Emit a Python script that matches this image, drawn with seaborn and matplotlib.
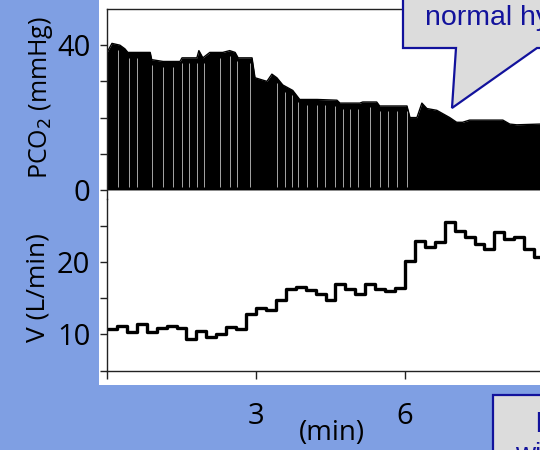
"""Capnogram PCO2 trace and step ventilation on a slide-style panel."""

import matplotlib.pyplot as plt
import numpy as np
import pandas as pd
import seaborn as sns
from matplotlib.patches import Polygon, Rectangle

# end-tidal PCO2 envelope (min, mmHg)
pco2_time = [0.0, 0.1, 0.26, 0.36, 0.42, 0.87, 0.9, 1.13, 1.47, 1.51, 1.81, 1.85,
             1.93, 2.07, 2.33, 2.47, 2.58, 2.64, 2.92, 2.98, 3.22, 3.32, 3.42, 3.54,
             3.74, 3.88, 4.23, 4.63, 4.69, 5.09, 5.15, 5.43, 5.49, 6.04, 6.1, 6.24,
             6.34, 6.44, 6.64, 6.9, 7.04, 7.16, 7.3, 7.97, 8.11, 8.25, 8.71, 9.0]
pco2_peak = [38, 40.5, 40, 39, 38, 38, 36, 35.5, 35.5, 36.5, 36.5, 38.5,
             36.5, 38, 38, 38.5, 38, 36.5, 36.5, 31, 30, 32, 31, 29,
             27.5, 25, 25, 24.8, 24, 24, 24.3, 24.3, 23.2, 23.2, 20, 20,
             24, 22.5, 22, 20, 18.7, 18.7, 19.3, 19.3, 18.2, 18, 18.2, 18.2]
# times where single breaths show as white gaps
gap_time = [0.22, 0.44, 0.60, 0.91, 1.13, 1.33, 1.51, 1.65, 1.81, 1.95, 2.27, 2.47,
            2.62, 2.88, 3.42, 3.58, 3.72, 3.84, 4.02, 4.23, 4.39, 4.59, 4.75, 4.89,
            5.05, 5.29, 5.49, 5.65, 5.84, 6.04]

# ventilation, one value per 12 s bin (L/min)
vent_time = [0.0, 0.2, 0.4, 0.6, 0.8, 1.0, 1.2, 1.4, 1.6, 1.8, 2.0, 2.2, 2.4, 2.6,
             2.8, 3.0, 3.2, 3.4, 3.6, 3.8, 4.0, 4.2, 4.4, 4.6, 4.8, 5.0, 5.2, 5.4,
             5.6, 5.8, 6.0, 6.2, 6.4, 6.6, 6.8, 7.0, 7.2, 7.4, 7.6, 7.8, 8.0, 8.2,
             8.4, 8.6, 8.8]
vent = [10.8, 11.1, 10.3, 11.4, 10.3, 10.9, 11.1, 10.9, 9.4, 10.4, 9.6, 10.0, 11.0, 10.8,
        12.8, 13.7, 13.3, 14.8, 16.3, 16.5, 16.1, 15.6, 14.7, 17.0, 16.2, 15.6, 16.9, 16.2,
        16.0, 16.4, 20.1, 22.9, 22.1, 22.8, 25.5, 24.3, 23.4, 22.5, 21.8, 24.1, 23.2, 23.5,
        21.8, 20.7, 20.7]

sns.set_style("ticks")
plt.rcParams["font.family"] = ["Open Sans", "DejaVu Sans"]
plt.rcParams["text.color"] = "black"
plt.rcParams["xtick.color"] = "#222222"
plt.rcParams["ytick.color"] = "#222222"
plt.rcParams["xtick.labelcolor"] = "black"
plt.rcParams["ytick.labelcolor"] = "black"

W, H = 540, 450
BG = "#7f9fe3"
BLUE = "#12129c"


def fx(px):
    return px / W


def fy(py):
    return 1 - py / H


fig = plt.figure(figsize=(W / 100, H / 100), dpi=100, facecolor=BG)
fig.patches.append(Rectangle((fx(99), fy(385)), 1, 1, transform=fig.transFigure,
                             facecolor="white", edgecolor="none", zorder=-5))

ax1 = fig.add_axes([fx(107), fy(199), 447 / W, (199 - 9) / H])
ax2 = fig.add_axes([fx(107), fy(370.5), 447 / W, (370.5 - 199) / H])

pco2 = pd.DataFrame({"t": pco2_time, "p": pco2_peak})
ax1.fill_between(pco2["t"], 0, pco2["p"], color="black", lw=0)
sns.lineplot(data=pco2, x="t", y="p", color="black", lw=1, ax=ax1)
gap_top = np.interp(gap_time, pco2_time, pco2_peak) - 1.5
ax1.vlines(gap_time, 0.8, gap_top, color="white", lw=0.5, alpha=0.9)
ax1.set_xlim(0, 9)
ax1.set_ylim(-2.5, 50)
ax1.set_yticks([0, 10, 20, 30, 40])
ax1.set_yticklabels(["0", "", "", "", "40"])
ax1.set_xticks([])
ax1.set_xlabel("")
ax1.set_ylabel("")
for s in ("right", "bottom"):
    ax1.spines[s].set_visible(False)

vdf = pd.DataFrame({"t": vent_time, "v": vent})
sns.lineplot(data=vdf, x="t", y="v", color="black", lw=2.4,
             drawstyle="steps-post", ax=ax2)
ax2.set_xlim(0, 9)
ax2.set_ylim(5, 28.7)
ax2.set_yticks([5, 10, 15, 20, 25])
ax2.set_yticklabels(["", "10", "", "20", ""])
ax2.set_xticks([0, 3, 6])
ax2.set_xticklabels(["", "3", "6"])
ax2.set_xlabel("")
ax2.set_ylabel("")
for s in ("right", "top"):
    ax2.spines[s].set_visible(False)

for ax in (ax1, ax2):
    ax.set_facecolor("none")
    for s in ax.spines.values():
        s.set_linewidth(1.0)
        s.set_color("#222222")
    ax.tick_params(axis="y", length=5, width=1, labelsize=21, pad=7)
ax2.tick_params(axis="x", length=6, width=1, labelsize=21, pad=17)

fig.text(fx(41), fy(98), "PCO$_2$ (mmHg)", rotation=90, ha="center", va="center",
         fontsize=18)
fig.text(fx(38), fy(288), "V (L/min)", rotation=90, ha="center", va="center",
         fontsize=19)
fig.text(fx(332), fy(433), "(min)", ha="center", va="center", fontsize=20)

# callouts from the slide
callout = [(403, -10), (403, 48), (456, 48), (452, 108), (537, 48), (580, 48), (580, -10)]
fig.patches.append(Polygon([(fx(x), fy(y)) for x, y in callout], closed=True,
                           transform=fig.transFigure, facecolor="#dcdcdc",
                           edgecolor=BLUE, lw=1.6, zorder=5))
fig.text(fx(425), fy(25), "normal hy", color=BLUE, fontsize=20.5,
         family="Liberation Sans", ha="left", va="baseline", zorder=6)
fig.patches.append(Rectangle((fx(493), fy(470)), 0.2, 75 / H, transform=fig.transFigure,
                             facecolor="#dcdcdc", edgecolor=BLUE, lw=1.6, zorder=5))
fig.text(fx(535), fy(432), "l", color=BLUE, fontsize=20,
         family="Liberation Sans", ha="left", va="baseline", zorder=6)
fig.text(fx(515), fy(462), "wi", color=BLUE, fontsize=20,
         family="Liberation Sans", ha="left", va="baseline", zorder=6)

fig.savefig("out.png", dpi=100, facecolor=BG)
